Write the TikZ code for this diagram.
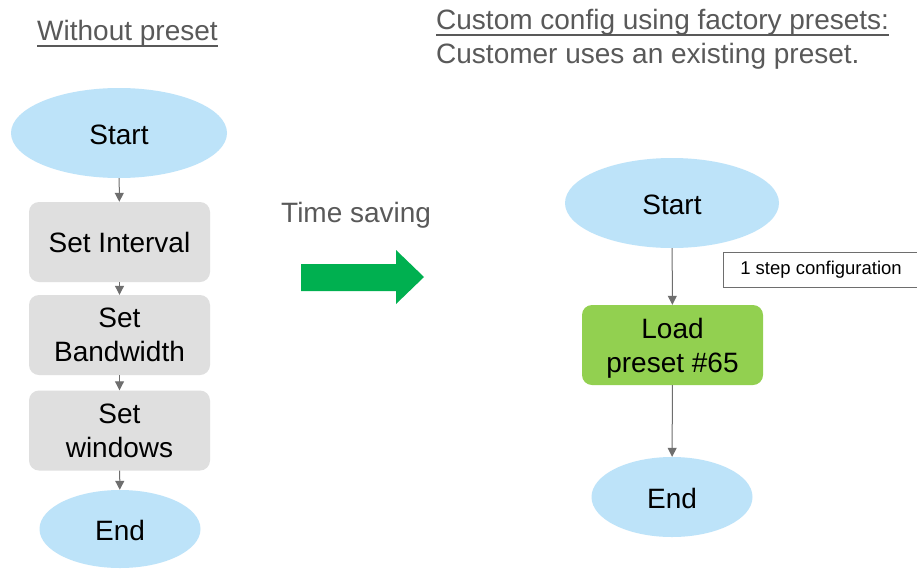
\documentclass[tikz,border=0pt]{standalone}
\usepackage{fontspec}
\setmainfont{Liberation Sans}
\usetikzlibrary{shapes.geometric,arrows.meta}
\definecolor{termblue}{HTML}{BDE3F9}
\definecolor{procgray}{HTML}{DFDFDF}
\definecolor{loadgreen}{HTML}{92D050}
\definecolor{savegreen}{HTML}{00B050}
\definecolor{linegray}{HTML}{6E6E6E}
\definecolor{titlegray}{HTML}{595959}

\begin{document}
\begin{tikzpicture}[x=1pt,y=-1pt,
	font=\fontsize{28}{34}\selectfont,
	term/.style={ellipse,fill=termblue,inner sep=0pt,text height=24pt},
	proc/.style={rounded corners=10pt,fill=procgray,minimum width=181pt,minimum height=80pt,align=center,inner sep=0pt,text depth=-4pt},
	flow/.style={draw=linegray,line width=1pt,-{Triangle[length=9pt,width=9pt]}},
	title/.style={text=titlegray,inner sep=0pt,anchor=base west}]
		\clip (0,0) rectangle (917,568);
		\fill[white] (0,0) rectangle (917,568);
		\node[title] (without) at (37,40) {Without preset};
		\node[title] (custom) at (436,29) {Custom config using factory presets:};
		\node[title] (customer) at (436,63) {Customer uses an existing preset.};
		\foreach \t in {without,custom}
		\draw[titlegray,line width=1.2pt] ([yshift=-6pt]\t.base west) -- ([yshift=-6pt]\t.base east);
		\node[term,minimum width=216pt,minimum height=90pt] (start1) at (119,133) {Start};
		\node[proc] (interval) at (119.5,242) {Set Interval};
		\node[proc] (bandwidth) at (119.5,335) {Set\\Bandwidth};
		\node[proc] (windows) at (119.5,430.5) {Set\\windows};
		\node[term,minimum width=161pt,minimum height=78pt] (end1) at (120,529) {End};
		\draw[flow] (start1) -- (interval);
		\draw[flow] (interval) -- (bandwidth);
		\draw[flow] (bandwidth) -- (windows);
		\draw[flow] (windows) -- (end1);
		\node[title] (saving) at (281,222) {Time saving};
		\fill[savegreen] (301,264) -- (396,264) -- (396,250) -- (424,277) -- (396,304) -- (396,291) -- (301,291) -- cycle;
		\node[term,minimum width=214pt,minimum height=90pt] (start2) at (672,203) {Start};
		\node[proc,fill=loadgreen,text depth=0pt] (load) at (672.5,345) {Load\\preset \#65};
		\node[term,minimum width=161pt,minimum height=80pt] (end2) at (672,497) {End};
		\draw[flow] (start2) -- (load);
		\draw[flow] (load) -- (end2);
		\node[draw=linegray,line width=1pt,anchor=west,minimum width=195pt,minimum height=35pt,inner sep=0pt,
			font=\fontsize{18.5}{22}\selectfont] (onestep) at (723,270) {1 step configuration};
	\end{tikzpicture}
\end{document}
